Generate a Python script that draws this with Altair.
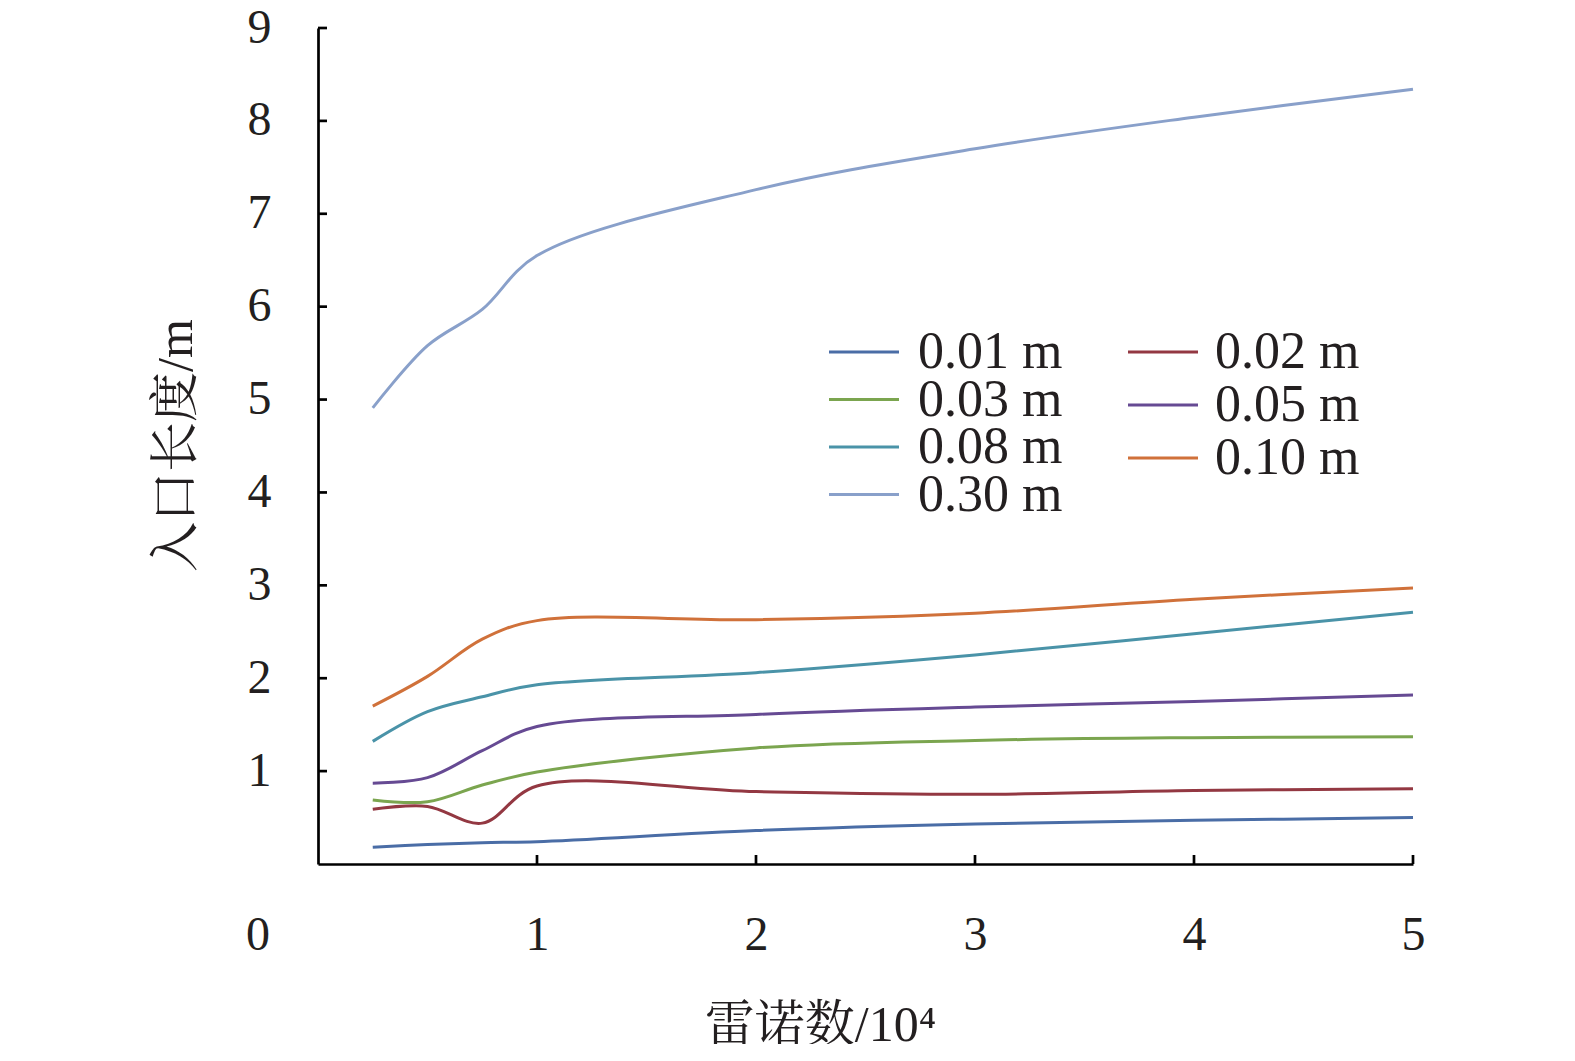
import altair as alt
import pandas as pd

# Reynolds number (x 10^4)
re_x = [0.25, 0.5, 0.75, 1, 2, 3, 4, 5]

series_names = ["0.01 m", "0.02 m", "0.03 m", "0.05 m", "0.08 m", "0.10 m", "0.30 m"]
series_colors = ["#4A6DA6", "#933842", "#7BA54F", "#664A93", "#4A93A8", "#D0713A", "#89A0CA"]

len_001 = [0.18, 0.21, 0.23, 0.24, 0.36, 0.43, 0.47, 0.50]
len_002 = [0.59, 0.62, 0.44, 0.84, 0.78, 0.75, 0.79, 0.81]
len_003 = [0.69, 0.67, 0.85, 0.99, 1.25, 1.33, 1.36, 1.37]
len_005 = [0.87, 0.93, 1.22, 1.48, 1.61, 1.69, 1.75, 1.82]
len_008 = [1.32, 1.64, 1.80, 1.93, 2.06, 2.25, 2.48, 2.71]
len_010 = [1.70, 2.02, 2.42, 2.62, 2.63, 2.70, 2.85, 2.97]
len_030 = [4.91, 5.58, 5.97, 6.55, 7.26, 7.70, 8.04, 8.34]

x_ticks = [1, 2, 3, 4, 5]
y_ticks = [1, 2, 3, 4, 5, 6, 7, 8, 9]
origin_label = ["0"]
x_title = "雷诺数/10⁴"
y_title = "入口长度/m"

all_series = [len_001, len_002, len_003, len_005, len_008, len_010, len_030]
rows = []
for name, vals in zip(series_names, all_series):
    for xv, yv in zip(re_x, vals):
        rows.append({"re": xv, "len": yv, "series": name})
df = pd.DataFrame(rows)

W, H = 1095, 836
INK = "#231f20"
LATIN = "Liberation Serif"
CJK = "Liberation Serif, Noto Serif CJK SC, Noto Sans CJK SC"

xscale = alt.Scale(domain=[0, 5], nice=False, zero=True)
yscale = alt.Scale(domain=[0, 9], nice=False, zero=True)
cscale = alt.Scale(domain=series_names, range=series_colors)

x_axis = alt.Axis(
    values=x_ticks, grid=False, ticks=False, domainColor="black", domainWidth=2.7,
    labelFont=LATIN, labelFontSize=48, labelColor=INK, labelPadding=47,
    labelFlush=False, labelOverlap=False,
    title=x_title, titleFont=CJK, titleFontSize=50, titleFontWeight="normal",
    titleColor=INK, titleX=502, titleY=161, titleAlign="center",
    titleBaseline="middle", titleAngle=0,
)
y_axis = alt.Axis(
    values=y_ticks, grid=False, ticks=False, domainColor="black", domainWidth=2.7,
    labelFont=LATIN, labelFontSize=48, labelColor=INK, labelPadding=47,
    labelFlush=False, labelOverlap=False,
    title=y_title, titleFont=CJK, titleFontSize=50, titleFontWeight="normal",
    titleColor=INK, titleX=-142, titleY=417, titleAlign="center",
    titleBaseline="middle", titleAngle=270,
)

lines = alt.Chart(df).mark_line(strokeWidth=3, interpolate="catmull-rom").encode(
    x=alt.X("re:Q", scale=xscale, axis=x_axis),
    y=alt.Y("len:Q", scale=yscale, axis=y_axis),
    color=alt.Color("series:N", scale=cscale, legend=None),
    detail="series:N",
)

# inward tick marks
xt_df = pd.DataFrame({"re": x_ticks})
yt_df = pd.DataFrame({"len": y_ticks})
xticks = alt.Chart(xt_df).mark_rule(color="black", strokeWidth=2.7).encode(
    x=alt.X("re:Q", scale=xscale, axis=x_axis),
    y=alt.value(H), y2=alt.value(H - 9),
)
yticks = alt.Chart(yt_df).mark_rule(color="black", strokeWidth=2.7).encode(
    y=alt.Y("len:Q", scale=yscale, axis=y_axis),
    x=alt.value(0), x2=alt.value(9),
)

origin = alt.Chart(pd.DataFrame({"t": origin_label})).mark_text(
    font=LATIN, fontSize=48, color=INK, align="center", baseline="middle"
).encode(x=alt.value(-60), y=alt.value(H + 72), text="t:N")

# manual two-column legend
leg_df = pd.DataFrame({"series": series_names, "i": list(range(len(series_names)))})
leg = alt.Chart(leg_df).transform_calculate(
    col="datum.i % 2",
    row="floor(datum.i / 2)",
).transform_calculate(
    sx="511 + datum.col * 299",
    sx2="581 + datum.col * 299",
    tx="600 + datum.col * 297",
    sy="324 + datum.row * (datum.col == 0 ? 47.5 : 53)",
)
leg_lines = leg.mark_rule(strokeWidth=3).encode(
    x=alt.X("sx:Q", scale=None, axis=None),
    x2="sx2:Q",
    y=alt.Y("sy:Q", scale=None, axis=None),
    color=alt.Color("series:N", scale=cscale, legend=None),
)
leg_text = leg.mark_text(
    font=LATIN, fontSize=52, color=INK, align="left", baseline="middle"
).encode(
    x=alt.X("tx:Q", scale=None, axis=None),
    y=alt.Y("sy:Q", scale=None, axis=None),
    text="series:N",
)

chart = alt.layer(lines, xticks, yticks, origin, leg_lines, leg_text).properties(
    width=W, height=H,
    autosize=alt.AutoSizeParams(type="none"),
    padding={"left": 310, "top": 20, "right": 140, "bottom": 180},
).configure_view(strokeWidth=0)

chart.save("out.html", embed_options={"renderer": "svg", "actions": False})
